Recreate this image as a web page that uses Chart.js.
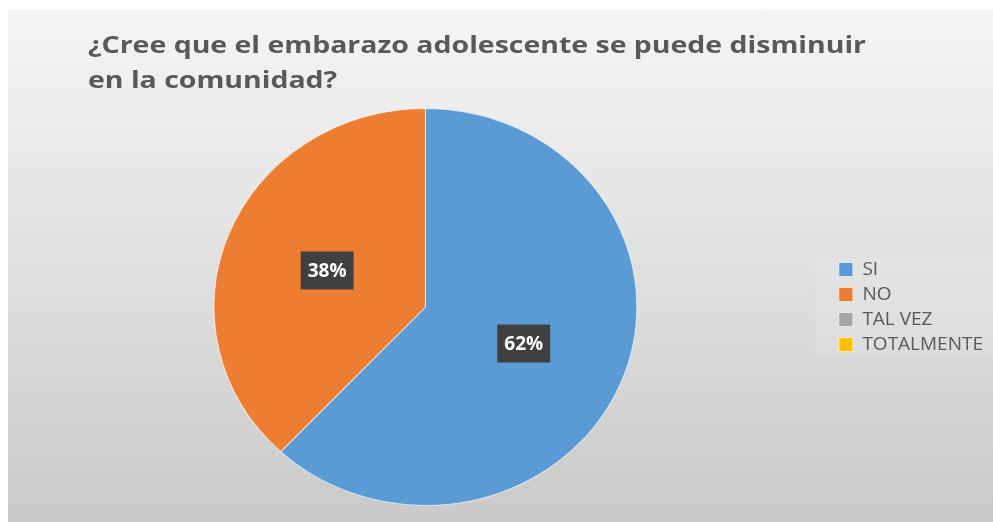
<!DOCTYPE html>
<html>

<head>
    <meta charset="utf-8">
    <title>Embarazo adolescente</title>
    <script type="text/javascript" src="https://cdn.jsdelivr.net/npm/chart.js@4.4.1/dist/chart.umd.min.js"></script>
    <style>
        body { margin: 0; background: #fff; }
        #box {
            position: absolute; left: 8px; top: 10px; width: 985px; height: 512px;
            background: linear-gradient(to bottom, #f5f5f5 0%, #e2e2e2 45%, #c9c9c9 100%);
        }
    </style>
</head>

<body>
    <div id="box"><canvas id="c" width="985" height="512"></canvas></div>
    <script>
        const titleLines = ['¿Cree que el embarazo adolescente se puede disminuir', 'en la comunidad?']
        const labels = ['SI', 'NO', 'TAL VEZ', 'TOTALMENTE']
        const values = [62, 38, 0, 0]
        const colors = ['#5b9bd5', '#ed7d31', '#a5a5a5', '#ffc000']

        // the original pie is a bit wider than tall
        const stretchX = 1.065

        const stretch = {
            id: 'stretch',
            beforeDatasetsDraw(chart) {
                const a = chart.getDatasetMeta(0).data[0]
                const ctx = chart.ctx
                ctx.save()
                ctx.translate(a.x, a.y)
                ctx.scale(stretchX, 1)
                ctx.translate(-a.x, -a.y)
            },
            afterDatasetsDraw(chart) {
                chart.ctx.restore()
                // value labels
                const ctx = chart.ctx
                chart.getDatasetMeta(0).data.forEach((arc, i) => {
                    if (!values[i]) return
                    const p = arc.getCenterPoint()
                    const x = arc.x + (p.x - arc.x) * stretchX
                    const y = p.y
                    const txt = values[i] + '%'
                    ctx.font = 'bold 19px "Open Sans"'
                    const w = ctx.measureText(txt).width + 14
                    const h = 38
                    ctx.fillStyle = '#404040'
                    ctx.fillRect(x - w / 2, y - h / 2, w, h)
                    ctx.fillStyle = '#fff'
                    ctx.textAlign = 'center'
                    ctx.textBaseline = 'middle'
                    ctx.fillText(txt, x, y + 1)
                })
            }
        }

        const title = {
            id: 'mytitle',
            beforeDraw(chart) {
                // faint lighter band behind the legend
                const ctx = chart.ctx
                ctx.save()
                ctx.fillStyle = 'rgba(255,255,255,0.12)'
                ctx.fillRect(807, 248, 178, 100)
                ctx.restore()
            },
            afterDraw(chart) {
                const ctx = chart.ctx
                ctx.save()
                ctx.font = 'bold 24px "Open Sans"'
                ctx.fillStyle = '#595959'
                ctx.textAlign = 'left'
                ctx.textBaseline = 'alphabetic'
                const sx = 778 / ctx.measureText(titleLines[0]).width
                ctx.translate(80, 0)
                ctx.scale(sx, 1)
                titleLines.forEach((t, i) => ctx.fillText(t, 0, 43 + i * 35))
                ctx.restore()
            }
        }

        new Chart(document.getElementById('c'), {
            type: 'pie',
            data: {
                labels: labels,
                datasets: [{
                    data: values,
                    backgroundColor: colors,
                    borderColor: 'rgba(255,255,255,0.6)',
                    borderWidth: 1
                }]
            },
            options: {
                responsive: false,
                animation: false,
                layout: { padding: { left: 10, top: 98, bottom: 16, right: 0 } },
                plugins: {
                    tooltip: { enabled: false },
                    title: { display: false },
                    legend: {
                        position: 'right',
                        labels: {
                            boxWidth: 14,
                            boxHeight: 14,
                            padding: 6,
                            color: '#595959',
                            font: { family: '"Open Sans"', size: 19 }
                        }
                    }
                }
            },
            plugins: [stretch, title]
        })
    </script>
</body>

</html>
